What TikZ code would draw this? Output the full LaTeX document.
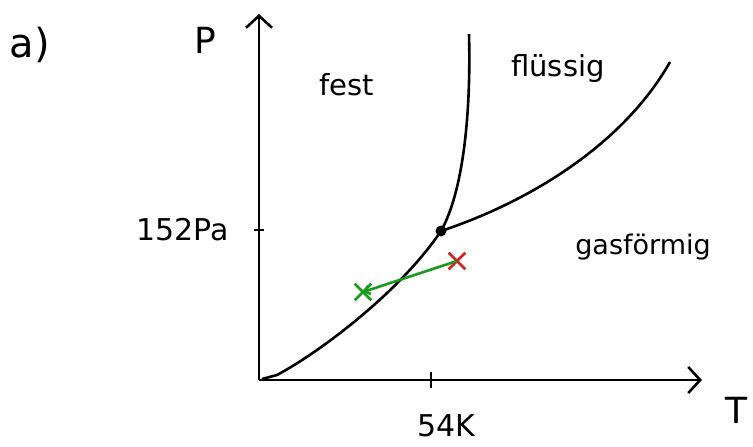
\documentclass[tikz,border=0pt]{standalone}
\usepackage{fontspec}
\setmainfont{DejaVu Sans}
\usepackage{xcolor}
\usetikzlibrary{arrows.meta,positioning,shapes.misc}
\definecolor{pdGreen}{HTML}{1A9A1A}
\definecolor{pdRed}{HTML}{D42020}

\begin{document}
\begin{tikzpicture}[
  x=1pt, y=-1pt,
  axis/.style={line width=2.6pt, -{Straight Barb[length=12pt,width=26pt,line width=2.6pt]}},
  curve/.style={line width=2.6pt},
  ticklabel/.style={font=\fontsize{30}{34}\selectfont, inner sep=0pt},
  region/.style={font=\fontsize{29}{33}\selectfont, inner sep=0pt},
  crossmark/.style={cross out, draw, line width=2.6pt, minimum size=14pt, inner sep=0pt}
]
  \useasboundingbox (0,0) rectangle (753,447);

  % axes
  \coordinate (origin) at (259,380);
  \coordinate (ptop) at (259,14);
  \coordinate (tend) at (702,380);
  \draw[axis] (origin) -- (ptop);
  \draw[axis] (origin) -- (tend);

  % ticks
  \coordinate (ptick) at (259,230);
  \coordinate (ttick) at (431,380);
  \draw[line width=2.6pt] ([xshift=-5pt]ptick) -- ([xshift=5pt]ptick);
  \draw[line width=2.6pt] ([yshift=-8pt]ttick) -- ([yshift=8pt]ttick);

  \node[ticklabel, left=30pt of ptick] (plab) {152Pa};
  \node[ticklabel, below=34pt of ttick, xshift=15pt] (tlab) {54K};
  \node[region, font=\fontsize{36}{40}\selectfont] (pname) at (205,40) {P};
  \node[region, font=\fontsize{36}{40}\selectfont] (tname) at (736,410) {T};
  \node[region, font=\fontsize{40}{44}\selectfont] (part) at (30,45) {a)};

  % phase boundaries
  \node[circle, fill, inner sep=0pt, minimum size=11pt] (tp) at (441,231) {};
  \draw[curve] ([shift={(3,-1)}]origin) -- (277,375)
    .. controls (320,352) and (400,292) .. (tp.center);
  \draw[curve] (tp.center)
    .. controls (464,190) and (471,110) .. (469,34);
  \draw[curve] (tp.center)
    .. controls (520,205) and (620,150) .. (670,62);

  \node[region] (solid) at (347,85) {fest};
  \node[region] (liquid) at (558,68) {flüssig};
  \node[region, font=\fontsize{27}{31}\selectfont] (gas) at (643,247) {gasförmig};

  % process
  \node[crossmark, draw=pdRed] (start) at (457,261) {};
  \node[crossmark, draw=pdGreen] (stop) at (363,292) {};
  \draw[pdGreen, line width=2.6pt, -{Straight Barb[length=5pt,width=9pt]}]
    (start.center) -- (stop.center);
\end{tikzpicture}
\end{document}
